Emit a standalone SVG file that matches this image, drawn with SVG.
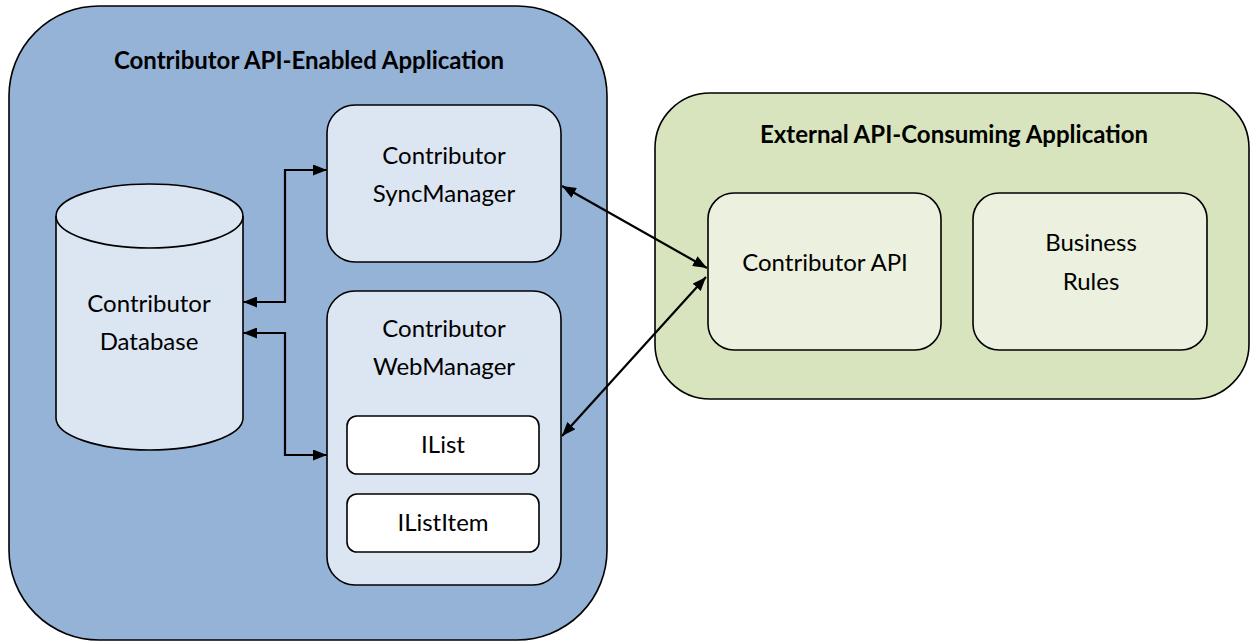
<svg xmlns="http://www.w3.org/2000/svg" width="1250" height="642" viewBox="0 0 1250 642">
<style>
.box{stroke:#000;stroke-width:1.6}
.blue{fill:#95B3D7}
.lb{fill:#DCE6F2}
.green{fill:#D7E4BD}
.lg{fill:#EBF1DE}
.white{fill:#fff}
text{font-family:Lato,"Open Sans","Liberation Sans",sans-serif;fill:#000;text-anchor:middle}
.t{font-size:24px}
.h{font-size:24px;font-weight:bold}
.c{fill:none;stroke:#000;stroke-width:2.2}
</style>
<defs>
<marker id="ah" viewBox="0 0 14 11" refX="14" refY="5.5" markerWidth="14" markerHeight="11" markerUnits="userSpaceOnUse" orient="auto-start-reverse">
<path d="M0,0 L14,5.5 L0,11 z" fill="#000"/>
</marker>
</defs>
<g id="app">
<rect class="box blue" x="9" y="6" width="598" height="634" rx="90"/>
<text class="h" x="309" y="69">Contributor API-Enabled Application</text>
</g>
<g id="db">
<path class="box lb" d="M56,216 L56,418 A93.5,32 0 0 0 243,418 L243,216 A93.5,32 0 0 0 56,216 Z"/>
<path class="box" fill="none" d="M56,216 A93.5,32 0 0 0 243,216"/>
<text class="t" x="149" y="312">Contributor</text>
<text class="t" x="149" y="350">Database</text>
</g>
<g id="sync">
<rect class="box lb" x="327" y="105" width="234" height="157" rx="28"/>
<text class="t" x="444" y="164">Contributor</text>
<text class="t" x="444" y="202">SyncManager</text>
</g>
<g id="web">
<rect class="box lb" x="327" y="291" width="234" height="294" rx="28"/>
<text class="t" x="444" y="337">Contributor</text>
<text class="t" x="444" y="375">WebManager</text>
</g>
<g id="ilist">
<rect class="box white" x="347" y="416" width="192" height="58" rx="10"/>
<text class="t" x="443" y="453">IList</text>
</g>
<g id="ilistitem">
<rect class="box white" x="347" y="494" width="192" height="58" rx="10"/>
<text class="t" x="443" y="531">IListItem</text>
</g>
<g id="ext">
<rect class="box green" x="655" y="93" width="594" height="306" rx="55"/>
<text class="h" x="954" y="143">External API-Consuming Application</text>
</g>
<g id="api">
<rect class="box lg" x="708" y="193" width="233" height="157" rx="26"/>
<text class="t" x="825" y="271">Contributor API</text>
</g>
<g id="rules">
<rect class="box lg" x="973" y="193" width="234" height="157" rx="26"/>
<text class="t" x="1091" y="251">Business</text>
<text class="t" x="1091" y="290">Rules</text>
</g>
<g id="connectors">
<path class="c" d="M243,302 H285 V170 H327" marker-start="url(#ah)" marker-end="url(#ah)"/>
<path class="c" d="M243,333 H285 V455 H327" marker-start="url(#ah)" marker-end="url(#ah)"/>
<path class="c" d="M562,186 L707,268" marker-start="url(#ah)" marker-end="url(#ah)"/>
<path class="c" d="M562,436 L706,277" marker-start="url(#ah)" marker-end="url(#ah)"/>
</g>
</svg>
